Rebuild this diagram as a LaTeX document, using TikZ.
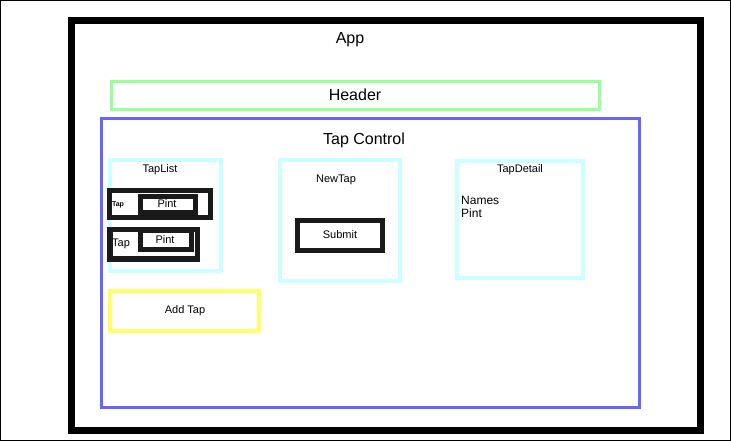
\documentclass[tikz,border=0pt]{standalone}
\usepackage{fontspec}
\setmainfont{Liberation Sans}
\definecolor{hdrgreen}{HTML}{99FF99}
\definecolor{ctrlblue}{HTML}{6666FF}
\definecolor{compcyan}{HTML}{CCFFFF}
\definecolor{addyellow}{HTML}{FFFF66}
\definecolor{darkbox}{HTML}{1A1A1A}
\tikzset{
  box/.style={draw, rectangle, inner sep=0pt, outer sep=0pt},
  lbl/.style={inner sep=0pt, font=\fontsize{#1}{#1}\selectfont},
  lbl/.default=11,
}
\begin{document}
\begin{tikzpicture}[x=1pt,y=-1pt]
\useasboundingbox (0,0) rectangle (731,441);
\draw[line width=1pt] (0.5,0.5) rectangle (730.5,440.5);
% App
\node[box, line width=7pt, draw=black, minimum width=629pt, minimum height=410pt] (app) at (385.5,225.5) {};
\node[lbl=16] (apptxt) at (350,40) {App};
% Header
\node[box, line width=3pt, draw=hdrgreen, minimum width=488pt, minimum height=28pt] (header) at (355.5,95.5) {};
\node[lbl=16] (headertxt) at (355,95) {Header};
% Tap Control
\node[box, line width=3pt, draw=ctrlblue, minimum width=538pt, minimum height=289pt] (tapcontrol) at (370.5,263.3) {};
\node[lbl=16] (tapcontroltxt) at (364,140) {Tap Control};
% TapList
\node[box, line width=4pt, draw=compcyan, minimum width=110.8pt, minimum height=110.7pt] (taplist) at (165.4,215.3) {};
\node[lbl=11] (taplisttxt) at (160,170) {TapList};
% Row 1
\node[box, line width=5pt, draw=darkbox, minimum width=101pt, minimum height=27pt] (row1) at (160,204) {};
\node[box, line width=5pt, draw=darkbox, minimum width=55.5pt, minimum height=16pt] (pint1) at (168,204.5) {};
\node[lbl=11] (pint1txt) at (167,204) {Pint};
\node[lbl=7, font=\fontsize{7}{7}\selectfont\bfseries] (tap1txt) at (118,205) {Tap};
% Row 2
\node[box, line width=5.5pt, draw=darkbox, minimum width=87.5pt, minimum height=29.5pt] (row2) at (153.5,244.2) {};
\node[box, line width=5pt, draw=darkbox, minimum width=51.5pt, minimum height=19.5pt] (pint2) at (166.2,240.2) {};
\node[lbl=11] (pint2txt) at (165,240) {Pint};
\node[lbl=11] (tap2txt) at (121,244) {Tap};
% NewTap
\node[box, line width=4pt, draw=compcyan, minimum width=120pt, minimum height=121pt] (newtap) at (340,220.5) {};
\node[lbl=11] (newtaptxt) at (336,180) {NewTap};
\node[box, line width=5pt, draw=darkbox, minimum width=85.5pt, minimum height=29.7pt] (submit) at (340.2,235.3) {};
\node[lbl=11] (submittxt) at (340,235) {Submit};
% TapDetail
\node[box, line width=4pt, draw=compcyan, minimum width=126.5pt, minimum height=117pt] (tapdetail) at (520.2,219.5) {};
\node[lbl=11] (tapdetailtxt) at (520,170) {TapDetail};
\node[lbl=12, anchor=west] (namestxt) at (461,200) {Names};
\node[lbl=12, anchor=west] (pintdtxt) at (461,213) {Pint};
% Add Tap
\node[box, line width=4pt, draw=addyellow, minimum width=148.6pt, minimum height=39.7pt] (addtap) at (184.3,310.8) {};
\node[lbl=11] (addtaptxt) at (185,311) {Add Tap};
\end{tikzpicture}
\end{document}
